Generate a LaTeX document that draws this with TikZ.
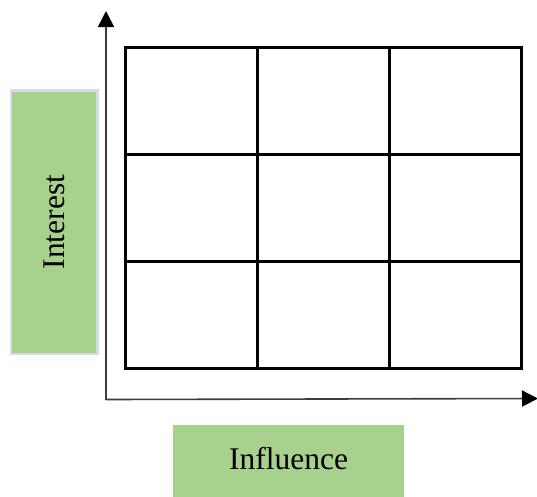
\documentclass[tikz,border=0pt]{standalone}
\usepackage{fontspec}
\setmainfont{Liberation Serif}
\usetikzlibrary{arrows.meta}
\definecolor{labelgreen}{HTML}{A9D18E}
\definecolor{labeledge}{HTML}{D6DCE6}
\definecolor{axisgray}{HTML}{3C3C3C}
\tikzset{
  cell/.style={draw=black, line width=3pt, minimum width=132pt, minimum height=107pt,
    inner sep=0pt, outer sep=0pt},
  axis/.style={draw=axisgray, line width=1.6pt,
    -{Triangle[width=16pt,length=16pt,fill=black,color=black]}},
  label box/.style={fill=labelgreen, inner sep=0pt, outer sep=0pt},
  label text/.style={font=\fontsize{31.5}{37}\selectfont},
}
\begin{document}
\begin{tikzpicture}[x=1pt,y=-1pt]
\useasboundingbox (0,0) rectangle (537,496);

% axes
\coordinate (origin) at (106,399.5);
\coordinate (ytip) at (106,11);
\coordinate (xtip) at (538,398.5);
\draw[axis] (origin) -- (ytip);
\draw[axis] (origin) -- (xtip);

% 3x3 grid of cells
\foreach \r/\y in {1/100.5, 2/207.5, 3/314.5}{
  \foreach \c/\x in {1/191, 2/323, 3/455.5}{
    \node[cell] (c\r\c) at (\x,\y) {};
  }
}

% axis labels
\node[label box, draw=labeledge, line width=2.6pt, minimum width=86.5pt, minimum height=263.7pt]
  (interest) at (54.3,222.2) {};
\node[label text, rotate=90] (interesttext) at (interest.center) {Interest};
\node[label box, minimum width=231pt, minimum height=80pt, anchor=north west]
  (influence) at (173,425) {};
\node[label text] (influencetext) at (288.5,459) {Influence};
\end{tikzpicture}
\end{document}
